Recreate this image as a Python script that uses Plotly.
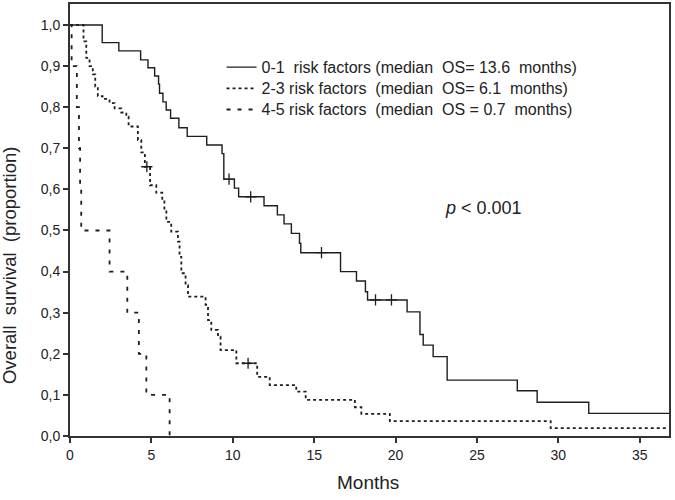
import plotly.graph_objects as go

# ---- data ----
t_01 = [0, 1.98, 3.0, 4.34, 4.79, 5.2, 5.44, 5.5, 5.71, 5.91, 6.18, 6.69, 7.2, 8.4, 9.34, 9.45,
        10.1, 10.36, 11.92, 12.74, 13.15, 13.6, 14.1, 14.18, 16.62, 17.6, 18.15, 18.28, 20.71,
        21.5, 21.7, 22.31, 23.17, 27.48, 28.7, 31.87, 36.8]
s_01 = [1.0, 0.957, 0.937, 0.915, 0.896, 0.876, 0.856, 0.834, 0.813, 0.793, 0.773, 0.750, 0.729,
        0.708, 0.687, 0.625, 0.603, 0.582, 0.560, 0.538, 0.516, 0.493, 0.469, 0.446, 0.400, 0.377,
        0.351, 0.331, 0.302, 0.247, 0.221, 0.193, 0.136, 0.110, 0.082, 0.055, 0.055]
cens_t_01 = [9.77, 11.1, 15.45, 18.77, 19.75]
cens_s_01 = [0.625, 0.582, 0.446, 0.331, 0.331]

t_23 = [0, 0.83, 1.0, 1.2, 1.4, 1.55, 1.71, 2.0, 2.43, 2.74, 3.15, 3.46, 3.6, 4.17, 4.38, 4.6,
        4.92, 5.3, 5.67, 5.8, 5.92, 6.22, 6.63, 6.73, 6.84, 7.1, 7.25, 8.33, 8.48, 8.68, 9.09,
        9.25, 10.22, 11.5, 12.27, 13.9, 14.48, 17.5, 17.9, 19.65, 29.53, 36.7]
s_23 = [1.0, 0.96, 0.92, 0.90, 0.88, 0.85, 0.827, 0.82, 0.81, 0.797, 0.787, 0.777, 0.753, 0.72,
        0.69, 0.655, 0.61, 0.592, 0.574, 0.55, 0.521, 0.497, 0.473, 0.436, 0.396, 0.367, 0.339,
        0.319, 0.282, 0.258, 0.242, 0.209, 0.177, 0.144, 0.124, 0.108, 0.088, 0.07, 0.054, 0.036,
        0.019, 0.019]
cens_t_23 = [4.72, 10.94]
cens_s_23 = [0.655, 0.177]

t_45 = [0, 0.1, 0.42, 0.55, 0.62, 0.69, 2.43, 3.52, 4.23, 4.69, 6.12]
s_45 = [1.0, 0.9, 0.8, 0.7, 0.6, 0.5, 0.4, 0.3, 0.2, 0.1, 0.0]

labels = ["0-1  risk factors (median  OS= 13.6  months)",
          "2-3 risk factors  (median  OS= 6.1  months)",
          "4-5 risk factors  (median  OS = 0.7  months)"]

x_ticks = [0, 5, 10, 15, 20, 25, 30, 35]
y_ticks = [0.0, 0.1, 0.2, 0.3, 0.4, 0.5, 0.6, 0.7, 0.8, 0.9, 1.0]
y_tick_text = ["0,0", "0,1", "0,2", "0,3", "0,4", "0,5", "0,6", "0,7", "0,8", "0,9", "1,0"]

FONT = "Liberation Sans, Arial, sans-serif"
LC = "#1e1e1e"


def leg(txt):
    return '<span style="font-size:16px">' + txt + '</span>'


fig = go.Figure()
fig.add_trace(go.Scatter(x=t_01, y=s_01, mode="lines", line_shape="hv", name=leg(labels[0]),
                         line=dict(color=LC, width=1.4)))
fig.add_trace(go.Scatter(x=t_23, y=s_23, mode="lines", line_shape="hv", name=leg(labels[1]),
                         line=dict(color=LC, width=1.8, dash="3px,3px")))
fig.add_trace(go.Scatter(x=t_45, y=s_45, mode="lines", line_shape="hv", name=leg(labels[2]),
                         line=dict(color=LC, width=1.8, dash="4px,7px")))
fig.add_trace(go.Scatter(x=cens_t_01, y=cens_s_01, mode="markers", showlegend=False,
                         marker=dict(symbol="cross-thin", size=8, line=dict(width=1.3, color=LC))))
fig.add_trace(go.Scatter(x=cens_t_23, y=cens_s_23, mode="markers", showlegend=False,
                         marker=dict(symbol="cross-thin", size=8, line=dict(width=1.3, color=LC))))

fig.add_annotation(text="<i>p</i> &lt; 0.001", xref="paper", yref="paper", x=0.6225, y=0.528,
                   xanchor="left", yanchor="middle", showarrow=False,
                   font=dict(family=FONT, size=18, color="#222"))
# axis titles
fig.add_annotation(text="Months", xref="paper", yref="paper", x=0.497, y=-0.107,
                   xanchor="center", yanchor="middle", showarrow=False,
                   font=dict(family=FONT, size=19, color="#222"))
fig.add_annotation(text="Overall  survival  (proportion)", xref="paper", yref="paper",
                   x=-0.1, y=0.396, textangle=-90, xanchor="center", yanchor="middle",
                   showarrow=False, font=dict(family=FONT, size=18.5, color="#222"))

fig.update_layout(
    width=675, height=500,
    margin=dict(l=70, r=6, t=4, b=64),
    paper_bgcolor="white", plot_bgcolor="white",
    font=dict(family=FONT, color="#222"),
    showlegend=True,
    legend=dict(x=0.253, y=0.89, xanchor="left", yanchor="top", bgcolor="rgba(0,0,0,0)",
                font=dict(family=FONT, size=14, color="#222"), tracegroupgap=0,
                itemwidth=30),
)
fig.update_xaxes(range=[0, 36.8], tickvals=x_ticks, ticks="outside", ticklen=5, tickwidth=1.5,
                 tickcolor="#333", showline=True, linecolor="#333", linewidth=2, mirror=True,
                 showgrid=False, zeroline=False, automargin=False,
                 tickfont=dict(size=14, family=FONT, color="#222"))
fig.update_yaxes(range=[0, 1.051], tickvals=y_ticks, ticktext=y_tick_text, ticks="outside",
                 ticklen=5, tickwidth=1.5, tickcolor="#333", showline=True, linecolor="#333",
                 linewidth=2, mirror=True, showgrid=False, zeroline=False, automargin=False,
                 tickfont=dict(size=14, family=FONT, color="#222"))

fig.write_html("out.html", config={"displayModeBar": False},
               post_script="document.body.style.margin='0px';")
